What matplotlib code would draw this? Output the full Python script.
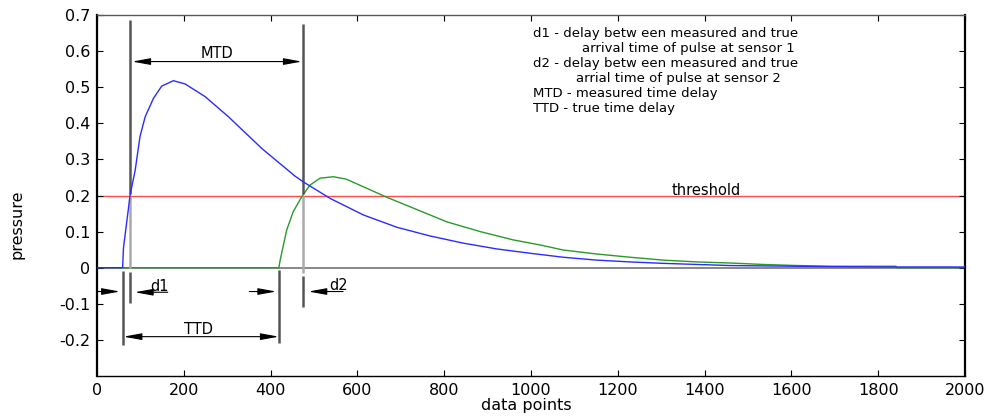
import numpy as np
import matplotlib.pyplot as plt

# pulse at sensor 1 (blue) and sensor 2 (green), sampled along the data index
x_s1 = [0, 59, 61, 72, 76, 88, 99, 111, 130, 149, 176, 203, 249, 303, 380, 422, 456, 475,
        537, 614, 691, 767, 844, 921, 998, 1074, 1151, 1228, 1305, 1382, 1458, 1535,
        1612, 1689, 1841, 2000]
p_s1 = [0, 0, 0.055, 0.16, 0.20, 0.27, 0.363, 0.418, 0.469, 0.503, 0.518, 0.509, 0.474,
        0.418, 0.330, 0.288, 0.254, 0.238, 0.192, 0.146, 0.112, 0.088, 0.068, 0.052,
        0.040, 0.029, 0.021, 0.016, 0.012, 0.009, 0.006, 0.005, 0.004, 0.003, 0.002, 0.002]

x_s2 = [0, 419, 422, 437, 452, 472, 491, 514, 545, 575, 614, 668, 729, 806, 883, 959,
        1021, 1074, 1151, 1228, 1305, 1382, 1458, 1535, 1612, 1689, 1841, 1842, 2000]
p_s2 = [0, 0, 0.021, 0.104, 0.155, 0.197, 0.229, 0.248, 0.252, 0.245, 0.224, 0.195,
        0.165, 0.127, 0.100, 0.077, 0.063, 0.049, 0.038, 0.029, 0.021, 0.016, 0.013,
        0.009, 0.006, 0.004, 0.004, 0, 0]

threshold = 0.2

# measured / true arrival points
t1_true, t1_meas = 59, 77
t2_true, t2_meas = 419, 474

notes = ['d1 - delay betw een measured and true',
         'arrival time of pulse at sensor 1',
         'd2 - delay betw een measured and true',
         'arrial time of pulse at sensor 2',
         'MTD - measured time delay',
         'TTD - true time delay']
notes_x = [1005, 1117, 1005, 1104, 1005, 1005]
notes_y = [0.650, 0.606, 0.566, 0.524, 0.482, 0.441]

xticks = list(range(0, 2001, 200))
yticks = [-0.2, -0.1, 0, 0.1, 0.2, 0.3, 0.4, 0.5, 0.6, 0.7]

plt.rcParams['font.family'] = 'DejaVu Sans'

fig = plt.figure(figsize=(9.94, 4.17), dpi=100)
ax = fig.add_axes([97/994, 41/417, 868/994, 361/417])

ax.axhline(0, color='0.45', lw=1.2, zorder=1)
ax.axhline(threshold, color='#ff4d4d', lw=1.0, zorder=1)
ax.plot(x_s2, p_s2, color='#2a9a2a', lw=1.0, zorder=2)
ax.plot(x_s1, p_s1, color='#2b2bff', lw=1.0, zorder=3)

dark = '#555555'
light = '#aaaaaa'
# measured arrival marks: dark above threshold, faint between threshold and zero
ax.vlines(t1_meas, 0.205, 0.686, color=dark, lw=1.8)
ax.vlines(t1_meas, 0, 0.2, color=light, lw=1.8)
ax.vlines(t1_meas, -0.097, -0.011, color=dark, lw=1.8)
ax.vlines(t2_meas, 0.205, 0.675, color=dark, lw=1.8)
ax.vlines(t2_meas, -0.015, 0.2, color=light, lw=1.8)
ax.vlines(t2_meas, -0.108, -0.022, color=dark, lw=1.8)
# true arrival marks
ax.vlines(t1_true, -0.214, -0.01, color=dark, lw=1.8)
ax.vlines(t2_true, -0.209, -0.006, color=dark, lw=1.8)

head = dict(arrowstyle='-|>,head_length=1.1,head_width=0.2', color='black', lw=0.8,
            shrinkA=0, shrinkB=0)
both = dict(head, arrowstyle='<|-|>,head_length=1.1,head_width=0.2')

ax.annotate('', xy=(t1_meas + 4, 0.571), xytext=(t2_meas - 2, 0.571), arrowprops=both)
ax.text(276, 0.593, 'MTD', ha='center', va='center', fontsize=10.5)

ax.annotate('', xy=(t1_true + 2, -0.191), xytext=(t2_true, -0.191), arrowprops=both)
ax.text(233, -0.170, 'TTD', ha='center', va='center', fontsize=10.5)

ax.annotate('', xy=(t1_true - 6, -0.066), xytext=(0, -0.066), arrowprops=head)
ax.annotate('', xy=(t1_meas + 10, -0.068), xytext=(163, -0.068), arrowprops=head)
ax.text(145, -0.052, 'd1', ha='center', va='center', fontsize=10.5)

ax.annotate('', xy=(t2_true - 6, -0.066), xytext=(351, -0.066), arrowprops=head)
ax.annotate('', xy=(t2_meas + 13, -0.066), xytext=(567, -0.066), arrowprops=head)
ax.text(556, -0.050, 'd2', ha='center', va='center', fontsize=10.5)

ax.text(1403, 0.215, 'threshold', ha='center', va='center', fontsize=10.5)

for s, nx, ny in zip(notes, notes_x, notes_y):
    ax.text(nx, ny, s, ha='left', va='center', fontsize=9.5)

ax.set_xlim(0, 2000)
ax.set_ylim(-0.3, 0.7)
ax.set_xticks(xticks)
ax.set_xticklabels([str(t) for t in xticks])
ax.set_yticks(yticks)
ax.set_yticklabels(['%g' % t for t in yticks])
ax.tick_params(direction='in', top=True, right=True, length=4, width=0.8,
               labelsize=11.5, pad=5)
for side in ['left', 'right']:
    ax.spines[side].set_linewidth(1.6)
for side in ['top', 'bottom']:
    ax.spines[side].set_linewidth(1.0)
ax.spines['top'].set_color('0.35')

ax.set_xlabel('data points', fontsize=11.5)
ax.xaxis.set_label_coords(0.495, -0.062)
ax.set_ylabel('pressure', fontsize=11.5)
ax.yaxis.set_label_coords(-0.083, 0.42)

fig.savefig('out.png', dpi=100)
